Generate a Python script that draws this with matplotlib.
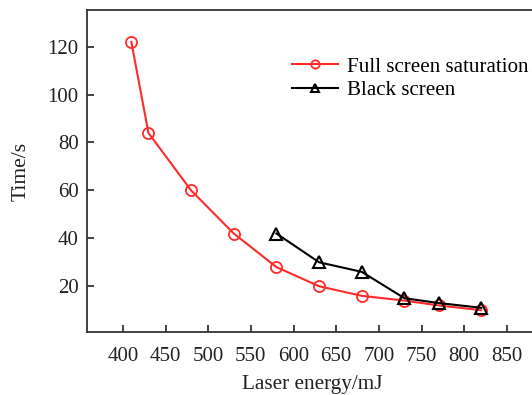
import matplotlib
matplotlib.use("Agg")
import matplotlib.pyplot as plt

red_x = [410, 430, 480, 530, 580, 630, 680, 730, 770, 820]
red_y = [122, 84, 60, 42, 28, 20, 16, 14, 12, 10]
black_x = [580, 630, 680, 730, 770, 820]
black_y = [42, 30, 26, 15, 13, 11]
x_ticks = [400, 450, 500, 550, 600, 650, 700, 750, 800, 850]
y_ticks = [20, 40, 60, 80, 100, 120]

plt.rcParams['font.family'] = ['Liberation Serif', 'DejaVu Serif']

fig = plt.figure(figsize=(5.32, 3.95), dpi=100)
ax = fig.add_axes([87/532, 63/395, 449.7/532, 322/395])

ax.plot(red_x, red_y, color='#ff2a2a', lw=1.5, marker='o', ms=8,
        mfc='none', mec='#ff2a2a', mew=1.3, label='Full screen saturation', zorder=2)
ax.plot(black_x, black_y, color='black', lw=1.5, marker='^', ms=8.5,
        mfc='none', mec='black', mew=1.5, label='Black screen', zorder=3)

ax.set_xlim(358, 885)
ax.set_ylim(0.9, 135.3)
ax.set_xticks(x_ticks)
ax.set_yticks(y_ticks)
ax.tick_params(direction='in', length=5, width=1.2, labelsize=15, colors='#222222')
ax.tick_params(axis='x', pad=11)
ax.tick_params(axis='y', pad=6)
for s in ax.spines.values():
    s.set_linewidth(1.3)
    s.set_color('#333333')

ax.set_xlabel('Laser energy/mJ', fontsize=15.3, color='#222222', labelpad=6)
ax.set_ylabel('Time/s', fontsize=15.5, color='#222222', labelpad=12)

ax.legend(loc='upper left', bbox_to_anchor=((292-87)/449.7, (395-57-63)/322),
          frameon=False, fontsize=15.1, handlelength=2.2, handletextpad=0.4,
          labelspacing=0.18, borderpad=0, borderaxespad=0, markerscale=0.75,
          numpoints=1)

fig.savefig('out.png', dpi=100)
